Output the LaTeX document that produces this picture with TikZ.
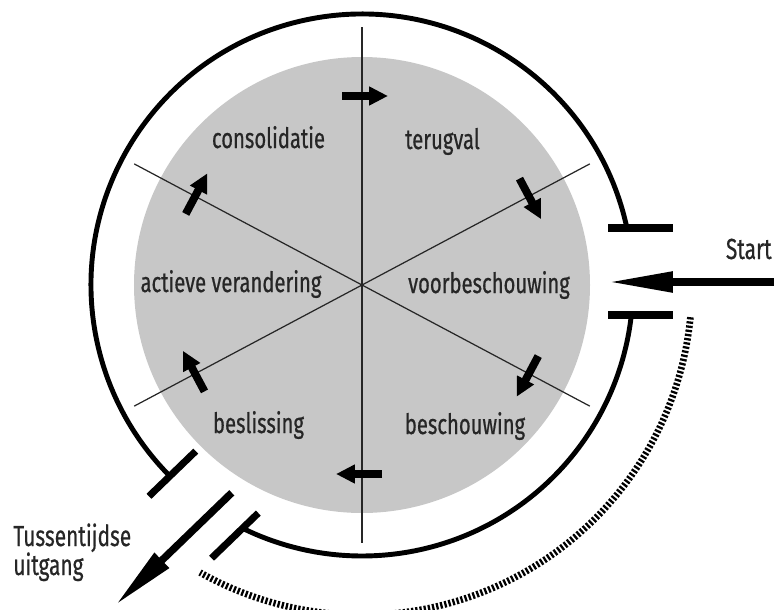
\documentclass[tikz,border=0pt]{standalone}
\usepackage{fontspec}
\setmainfont{Fira Sans}[FakeStretch=0.72, FakeBold=0.6]
\usetikzlibrary{arrows.meta}

\begin{document}
\begin{tikzpicture}[x=0.02cm, y=0.02cm,
    lbl/.style={font=\fontsize{16}{18}\selectfont, text=black!85, inner sep=0pt, anchor=base},
    side/.style={font=\fontsize{16.5}{16.5}\selectfont, text=black!85, inner sep=0pt, align=left},
    ring/.style={line width=2.8pt},
    bar/.style={line width=4pt},
    spoke/.style={line width=0.7pt, black!85},
    flow/.style={line width=4.5pt, -{Triangle[length=10.8pt, width=10.2pt]}},
    gate/.style={line width=4.2pt, -{Triangle[length=36.9pt, width=11pt]}},
    dotring/.style={line width=3.8pt, dash pattern=on 1.3pt off 1.1pt}]
  \clip (-362,-324) rectangle (414,285);
  \fill[black!22] (0,0) circle (228);
  \foreach \a in {90,28,152}
    \draw[spoke] (\a:258) -- (\a+180:258);
  \foreach \a in {90,28,-28,-90,-152,152}
    \draw[flow, rotate=\a] (189,20) -- (189,-26);
  % outer ring with entry and exit
  \draw[ring] (12.14:271) arc[start angle=12.14, end angle=224.85, radius=271];
  \draw[ring] (243.85:271) arc[start angle=243.85, end angle=353.64, radius=271];
  \draw[bar] (246,57) -- (311,57);
  \draw[bar] (246,-30) -- (311,-30);
  \coordinate (startfrom) at (412,3);
  \coordinate (entry) at (246,3);
  \draw[gate] (startfrom) -- (entry);
  \begin{scope}[rotate=224]
    \draw[bar] (235,4) -- (300,4);
    \draw[bar] (233,92) -- (298,92);
    \coordinate (exitfrom) at (238,59);
    \coordinate (exitto) at (400,59);
    \draw[gate] (exitfrom) -- (exitto);
  \end{scope}
  \draw[dotring] (-5.6:330) arc[start angle=-5.6, end angle=-119.4, radius=330];
  \node[lbl] (consol) at (-93.5,137) {consolidatie};
  \node[lbl] (terug) at (80.5,136) {terugval};
  \node[lbl] (actief) at (-131,-7) {actieve verandering};
  \node[lbl] (voorb) at (127,-8) {voorbeschouwing};
  \node[lbl] (besl) at (-103.5,-148) {beslissing};
  \node[lbl] (besch) at (103,-149) {beschouwing};
  \node[side, anchor=base east] (start) at (410,26) {Start};
  \node[side, anchor=base west] (uitgang) at (-349,-290) {Tussentijdse\\uitgang};
\end{tikzpicture}
\end{document}
